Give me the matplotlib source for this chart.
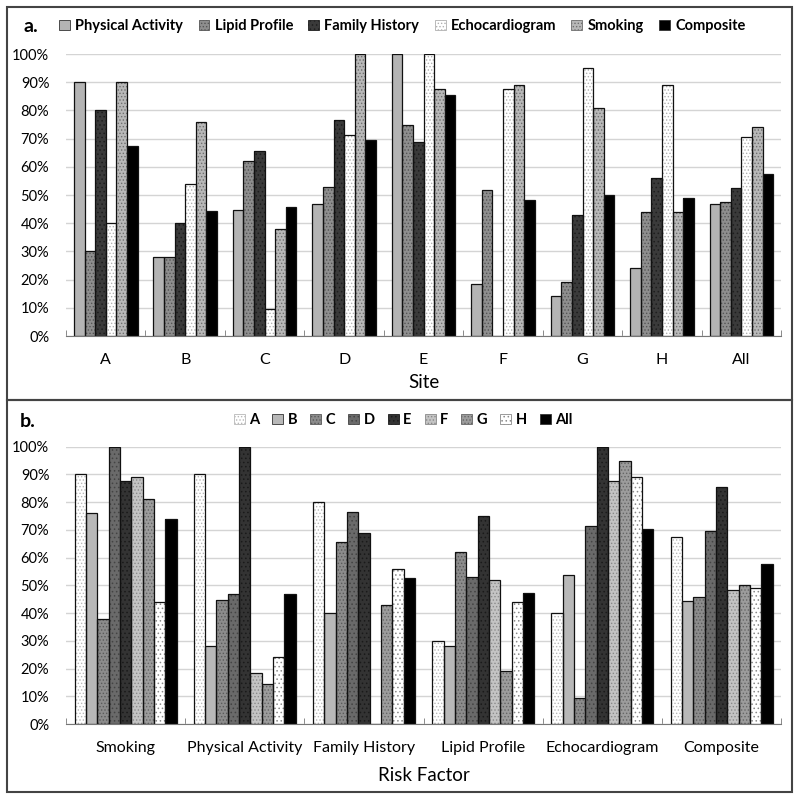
import numpy as np
import matplotlib.pyplot as plt
from matplotlib.patches import Rectangle, Patch
from matplotlib.ticker import FuncFormatter

plt.rcParams['font.family'] = ['Lato', 'DejaVu Sans']
plt.rcParams['hatch.linewidth'] = 0.6

# Data (percent)
sites = ['A', 'B', 'C', 'D', 'E', 'F', 'G', 'H', 'All']
physical_activity = [90, 28, 44.8, 47, 100, 18.5, 14.3, 24, 46.8]
lipid_profile = [30, 28, 62, 53, 75, 51.9, 19, 44, 47.4]
family_history = [80, 40, 65.5, 76.5, 68.8, 0, 42.9, 56, 52.6]
echocardiogram = [40, 53.8, 9.5, 71.3, 100, 87.5, 95, 89, 70.5]
smoking = [90, 76, 38, 100, 87.5, 88.9, 81, 44, 74]
composite = [67.3, 44.2, 45.8, 69.5, 85.6, 48.4, 50, 49.1, 57.6]

factors_a = ['Physical Activity', 'Lipid Profile', 'Family History',
             'Echocardiogram', 'Smoking', 'Composite']
series_a = [physical_activity, lipid_profile, family_history,
            echocardiogram, smoking, composite]

factors_b = ['Smoking', 'Physical Activity', 'Family History',
             'Lipid Profile', 'Echocardiogram', 'Composite']
lookup = dict(zip(factors_a, series_a))
# panel b is the same table, one series per site
series_b = [[lookup[f][i] for f in factors_b] for i in range(len(sites))]

# (face, hatch, hatch colour)
styles_a = [('#b4b4b4', None, None),
            ('#8e8e8e', '.....', '#555555'),
            ('#3a3a3a', '....', '#1e1e1e'),
            ('#ffffff', '.....', '#b0b0b0'),
            ('#b8b8b8', '.....', '#6e6e6e'),
            ('#000000', None, None)]
styles_b = [('#ffffff', '.....', '#b8b8b8'),
            ('#b8b8b8', None, None),
            ('#8c8c8c', '.....', '#5a5a5a'),
            ('#6a6a6a', '....', '#444444'),
            ('#333333', '....', '#1a1a1a'),
            ('#c4c4c4', '.....', '#8a8a8a'),
            ('#9c9c9c', '.....', '#666666'),
            ('#ffffff', '....', '#8a8a8a'),
            ('#000000', None, None)]


def draw_panel(ax, cats, series, names, styles, group_w, pad):
    n = len(series)
    w = group_w / n
    x = np.arange(len(cats))
    handles = []
    for k, (vals, (fc, hatch, hc)) in enumerate(zip(series, styles)):
        pos = x - group_w / 2 + w * (k + 0.5)
        if hatch:
            ax.bar(pos, vals, w, color=fc, hatch=hatch, edgecolor=hc,
                   linewidth=0, zorder=2)
        else:
            ax.bar(pos, vals, w, color=fc, linewidth=0, zorder=2)
        ax.bar(pos, vals, w, fill=False, edgecolor='#111111',
               linewidth=0.9, zorder=3)
        handles.append(Patch(facecolor=fc, hatch=hatch,
                             edgecolor=hc if hatch else '#333333',
                             linewidth=0.6))
    ax.set_xlim(-0.5, len(cats) - 0.5)
    ax.set_ylim(0, 100)
    ax.set_yticks(np.arange(0, 101, 10))
    ax.yaxis.set_major_formatter(FuncFormatter(lambda v, p: '%d%%' % v))
    ax.set_xticks(x)
    ax.set_xticklabels(cats, fontsize=11.5)
    ax.set_xticks(np.arange(len(cats) + 1) - 0.5, minor=True)
    ax.tick_params(axis='x', which='major', length=0, pad=pad)
    ax.tick_params(axis='x', which='minor', direction='in', length=4,
                   color='#777777')
    ax.tick_params(axis='y', length=0, labelsize=10.5, pad=12)
    ax.grid(axis='y', color='#d4d4d4', linewidth=1, zorder=0)
    ax.set_axisbelow(True)
    for s in ['top', 'right', 'left']:
        ax.spines[s].set_visible(False)
    ax.spines['bottom'].set_color('#777777')
    ax.spines['bottom'].set_zorder(4)
    return handles


fig = plt.figure(figsize=(8, 8.01), dpi=100)

ax1 = fig.add_axes([0.0825, 0.5805, 0.894, 0.352])
h1 = draw_panel(ax1, sites, series_a, factors_a, styles_a, 0.80, 12)
ax1.set_xlabel('Site', fontsize=13.5, labelpad=5)
fig.legend(h1, factors_a, loc='center', bbox_to_anchor=(0.503, 1 - 26 / 801),
           ncol=6, frameon=False, handlelength=0.75, handleheight=0.75,
           handletextpad=0.35, columnspacing=1.05,
           prop={'weight': 'bold', 'size': 10.5})
fig.text(23 / 800, 1 - 26 / 801, 'a.', fontsize=14, fontweight='bold',
         va='center')

ax2 = fig.add_axes([0.0825, 0.0961, 0.894, 0.3462])
h2 = draw_panel(ax2, factors_b, series_b, sites, styles_b, 0.855, 12)
ax2.set_xlabel('Risk Factor', fontsize=13.5, labelpad=9)
fig.legend(h2, sites, loc='center', bbox_to_anchor=(0.504, 1 - 420 / 801),
           ncol=9, frameon=False, handlelength=0.75, handleheight=0.75,
           handletextpad=0.3, columnspacing=0.9,
           prop={'weight': 'bold', 'size': 10.5})
fig.text(20 / 800, 1 - 422 / 801, 'b.', fontsize=14, fontweight='bold',
         va='center')

# outer frames around each panel
for top, bottom in [(7, 400), (400, 792)]:
    fig.add_artist(Rectangle((7 / 800, 1 - bottom / 801), 785 / 800,
                             (bottom - top) / 801, transform=fig.transFigure,
                             fill=False, edgecolor='#444444', linewidth=1.5))

fig.savefig('out.png', dpi=100)
